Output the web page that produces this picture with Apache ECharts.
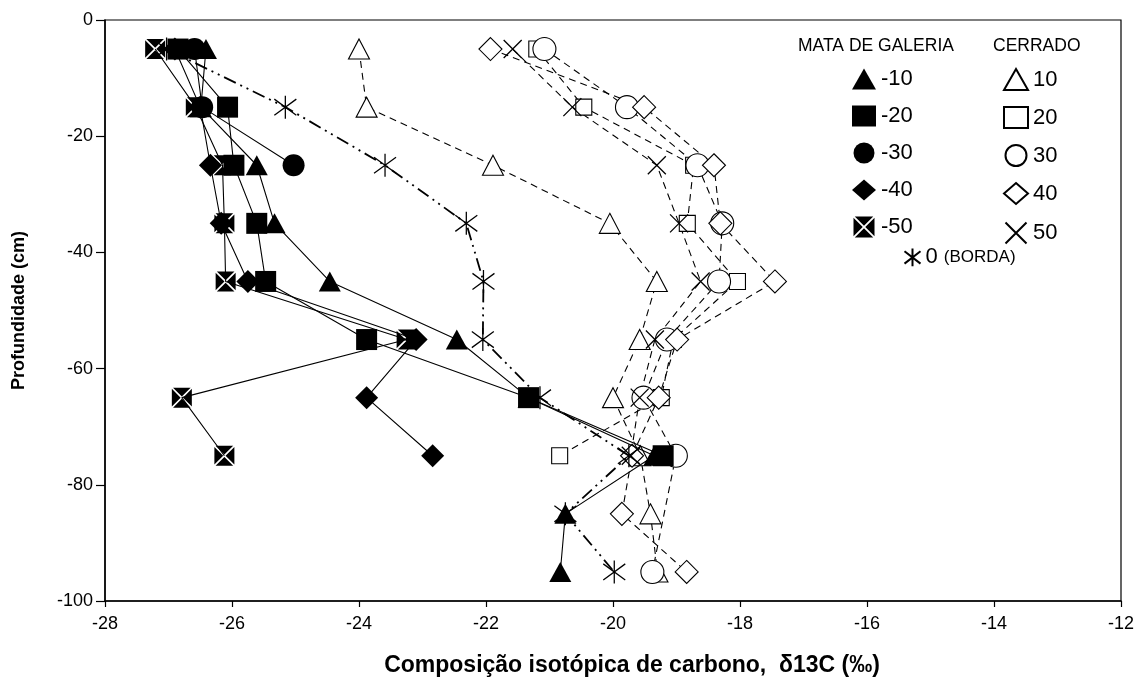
<!DOCTYPE html>
<html>
<head>
<meta charset="utf-8">
<script src="https://cdn.jsdelivr.net/npm/echarts@6/dist/echarts.min.js"></script>
<style>html,body{margin:0;padding:0;background:#fff}#c{width:1147px;height:690px}</style>
</head>
<body>
<div id="c"></div>
<script>
// ---- data (x = δ13C, paired with depths) ----
var depths = [-5, -15, -25, -35, -45, -55, -65, -75, -85, -95];

// Mata de galeria (filled symbols, solid lines)
var mata10 = [-26.41, -26.49, -25.61, -25.33, -24.46, -22.46, -21.33, -19.35, -20.75, -20.83];
var mata20 = [-26.85, -26.07, -25.97, -25.61, -25.47, -23.88, -21.33, -19.21];
var mata30 = [-26.59, -26.47, -25.03];
var mata40 = [-26.9, -26.5, -26.34, -26.17, -25.75, -23.1, -23.88, -22.84];
var mata50 = [-27.21, -26.57, -26.15, -26.12, -26.10, -23.25, -26.79, -26.12];

// Borda (0)
var borda0 = [-27.03, -25.16, -23.59, -22.31, -22.04, -22.05, -21.15, -19.75, -20.75, -19.98];

// Cerrado (open symbols, dashed lines)
var cerr10 = [-24.0, -23.88, -21.89, -20.05, -19.31, -19.58, -20.0, -19.57, -19.41, -19.30];
var cerr20 = [-21.2, -20.46, -18.73, -18.83, -18.04, -19.05, -19.24, -20.84];
var cerr30 = [-21.08, -19.78, -18.67, -18.28, -18.33, -19.15, -19.52, -19.01, null, -19.38];
var cerr40 = [-21.93, -19.51, -18.41, -18.31, -17.45, -18.99, -19.28, -19.7, -19.86, -18.84];
var cerr50 = [-21.58, -20.64, -19.31, -18.96, -18.62, -19.34, -19.58, -19.72];

var xTicks = [-28, -26, -24, -22, -20, -18, -16, -14, -12];
var yTicks = [-100, -80, -60, -40, -20, 0];

function pairs(arr) {
  var out = [];
  for (var i = 0; i < arr.length; i++) {
    if (arr[i] !== null) out.push([arr[i], depths[i]]);
  }
  return out;
}

var XBOX = 'path://M0.6,0L9.4,0L5,4.4Z M10,0.6L10,9.4L5.6,5Z M9.4,10L0.6,10L5,5.6Z M0,9.4L0,0.6L4.4,5Z';
var XMARK = 'path://M0,0L10,10M10,0L0,10';
var AST = 'path://M5,0L5,10M0.5,1.5L9.5,8.5M9.5,1.5L0.5,8.5';
var FONT = '"Liberation Sans", Arial, sans-serif';

function openSeries(name, arr, symbol, size) {
  return {
    name: name, type: 'line', data: pairs(arr), symbol: symbol, symbolSize: size,
    lineStyle: {color: '#000', width: 1.1, type: [7, 5]},
    itemStyle: {color: '#fff', borderColor: '#000', borderWidth: 1.1},
    z: 2
  };
}
function filledSeries(name, arr, symbol, size, z) {
  return {
    name: name, type: 'line', data: pairs(arr), symbol: symbol, symbolSize: size,
    lineStyle: {color: '#000', width: 1.1},
    itemStyle: {color: '#000', borderColor: '#000', borderWidth: 0},
    z: z
  };
}

var series = [
  openSeries('10', cerr10, 'triangle', [21, 20]),
  openSeries('20', cerr20, 'rect', [16, 16]),
  openSeries('30', cerr30, 'circle', 23),
  openSeries('40', cerr40, 'diamond', [23, 23]),
  {
    name: '50', type: 'line', data: pairs(cerr50), symbol: XMARK, symbolSize: 18,
    lineStyle: {color: '#000', width: 1.1, type: [7, 5]},
    itemStyle: {color: 'none', borderColor: '#000', borderWidth: 1.3}, z: 2
  },
  {
    name: '0', type: 'line', data: pairs(borda0), symbol: AST, symbolSize: [22, 23],
    lineStyle: {color: '#000', width: 1.8, type: [13, 5, 2, 5, 2, 5]},
    itemStyle: {color: 'none', borderColor: '#000', borderWidth: 1.3}, z: 3
  },
  filledSeries('-10', mata10, 'triangle', [22, 20], 4),
  filledSeries('-40', mata40, 'diamond', [23, 23], 5),
  filledSeries('-50', mata50, XBOX, 20, 6),
  filledSeries('-20', mata20, 'rect', 21, 7),
  filledSeries('-30', mata30, 'circle', 22, 8)
];

var chart = echarts.init(document.getElementById('c'), null, {renderer: 'canvas'});
chart.setOption({
  animation: false,
  backgroundColor: '#fff',
  textStyle: {fontFamily: FONT, color: '#000'},
  grid: {left: 105, right: 26, top: 20, bottom: 89, show: true, borderColor: '#000', borderWidth: 1.2, backgroundColor: 'transparent'},
  xAxis: {
    type: 'value', min: xTicks[0], max: xTicks[xTicks.length - 1], interval: 2,
    name: 'Composição isotópica de carbono,  δ13C (‰)', nameLocation: 'middle', nameGap: 53,
    nameTextStyle: {fontFamily: FONT, fontSize: 23, fontWeight: 'bold', color: '#000', padding: [0, 0, 0, 38]},
    axisLine: {show: true, onZero: false, lineStyle: {color: '#000', width: 1.5}},
    axisTick: {show: true, inside: false, length: 6, lineStyle: {color: '#000', width: 1.2}},
    axisLabel: {fontFamily: FONT, fontSize: 18, color: '#000', margin: 14},
    splitLine: {show: false}
  },
  yAxis: {
    type: 'value', min: yTicks[0], max: yTicks[yTicks.length - 1], interval: 20,
    name: 'Profundidade (cm)', nameLocation: 'middle', nameGap: 77,
    nameTextStyle: {fontFamily: FONT, fontSize: 18, fontWeight: 'bold', color: '#000'},
    axisLine: {show: true, onZero: false, lineStyle: {color: '#000', width: 1.5}},
    axisTick: {show: true, inside: false, length: 9, lineStyle: {color: '#000', width: 1.2}},
    axisLabel: {fontFamily: FONT, fontSize: 18, color: '#000', margin: 12},
    splitLine: {show: false}
  },
  legend: [
    {
      orient: 'vertical', left: 852, top: 68, itemWidth: 24, itemHeight: 21, itemGap: 15.0, padding: 0,
      textStyle: {fontFamily: FONT, fontSize: 22, color: '#000'},
      selectedMode: false,
      data: [
        {name: '-10', icon: 'triangle'}, {name: '-20', icon: 'rect'}, {name: '-30', icon: 'circle'},
        {name: '-40', icon: 'diamond'}, {name: '-50', icon: XBOX}
      ]
    },
    {
      orient: 'vertical', left: 1003, top: 68, itemWidth: 24, itemHeight: 21, itemGap: 15.0, padding: 0,
      textStyle: {fontFamily: FONT, fontSize: 22, color: '#000'},
      selectedMode: false,
      data: [
        {name: '10', icon: 'triangle'}, {name: '20', icon: 'rect'}, {name: '30', icon: 'circle'},
        {name: '40', icon: 'diamond'}, {name: '50', icon: XMARK}
      ]
    },
    {
      orient: 'vertical', left: 902, top: 246, itemWidth: 16, itemHeight: 24, padding: 0,
      textStyle: {fontFamily: FONT, fontSize: 22, color: '#000', rich: {s: {fontFamily: FONT, fontSize: 17, color: '#000'}}},
      selectedMode: false,
      formatter: function (n) { return n + ' {s|(BORDA)}'; },
      data: [{name: '0', icon: AST}]
    }
  ],
  graphic: [
    {type: 'text', left: 798, top: 37, style: {text: 'MATA DE GALERIA', font: '17.5px ' + FONT, fill: '#000'}},
    {type: 'text', left: 993, top: 37, style: {text: 'CERRADO', font: '17.5px ' + FONT, fill: '#000'}}
  ],
  series: series
});
</script>
</body>
</html>
